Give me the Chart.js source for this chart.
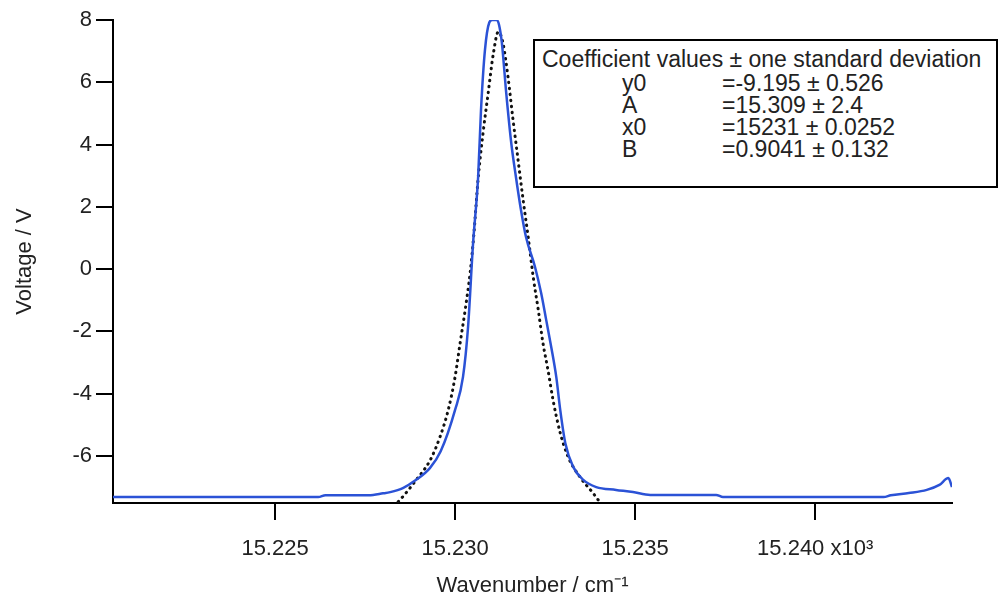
<!DOCTYPE html>
<html>
<head>
<meta charset="utf-8">
<script src="https://cdn.jsdelivr.net/npm/chart.js@4/dist/chart.umd.min.js"></script>
<style>
  html, body { margin: 0; padding: 0; background: #fff; }
  #wrap { position: relative; width: 998px; height: 599px; }
  #coef {
    position: absolute; left: 533px; top: 39px; width: 461px; height: 145px;
    border: 2px solid #000; background: #fff;
    font-family: 'Liberation Sans', Arial, sans-serif; font-size: 23px; color: #222;
    line-height: 22px;
  }
  #coef .title { position: absolute; left: 7px; top: 7px; white-space: nowrap; }
  #coef .row { position: absolute; left: 0; white-space: nowrap; }
  #coef .name { position: absolute; left: 87px; }
  #coef .val { position: absolute; left: 187px; }
</style>
</head>
<body>
<div id="wrap">
  <canvas id="chart" width="998" height="599"></canvas>
  <div id="coef"></div>
</div>
<script>
// measured trace (blue)
const traceWn = [15220.5, 15226.2, 15226.4, 15227.6, 15228.0, 15228.2, 15228.55, 15228.9, 15229.3, 15229.6,
  15230.0, 15230.22, 15230.36, 15230.5, 15230.64, 15230.72, 15230.83, 15230.95, 15231.03, 15231.15,
  15231.22, 15231.3, 15231.42, 15231.56, 15231.69, 15231.83, 15231.97, 15232.22, 15232.39, 15232.53,
  15232.67, 15232.81, 15232.92, 15233.06, 15233.28, 15233.56, 15233.92, 15234.47, 15234.94, 15235.42,
  15237.25, 15237.44, 15241.9, 15242.1, 15242.6, 15243.1, 15243.45, 15243.7, 15243.8];
const traceV = [-7.32, -7.32, -7.26, -7.26, -7.2, -7.16, -7.03, -6.78, -6.39, -5.85,
  -4.52, -3.46, -1.86, 0.84, 2.96, 5.11, 7.04, 7.92, 8.0, 8.0,
  7.85, 7.26, 5.66, 4.05, 2.96, 1.9, 1.03, 0.07, -0.77, -1.63,
  -2.5, -3.46, -4.52, -5.58, -6.35, -6.77, -7.0, -7.09, -7.16, -7.25,
  -7.25, -7.32, -7.32, -7.26, -7.19, -7.09, -6.93, -6.71, -7.0];

// gaussian fit (dotted)
const fitWn = [15228.3, 15228.47, 15228.92, 15229.31, 15229.58, 15229.81, 15230.0, 15230.14, 15230.28, 15230.42,
  15230.52, 15230.64, 15230.78, 15230.92, 15231.06, 15231.2, 15231.33, 15231.47, 15231.61, 15231.75,
  15231.89, 15232.03, 15232.17, 15232.31, 15232.44, 15232.58, 15232.72, 15232.92, 15233.14, 15233.47,
  15233.83, 15234.0];
const fitV = [-7.6, -7.41, -6.77, -6.13, -5.39, -4.52, -3.46, -2.37, -1.31, -0.1,
  1.1, 2.9, 4.4, 5.66, 6.9, 7.62, 7.26, 6.17, 4.79, 3.5,
  2.22, 1.03, -0.25, -1.31, -2.37, -3.24, -4.2, -5.26, -6.03, -6.68,
  -7.19, -7.45];

const xTicks = [15225, 15230, 15235, 15240];
const xTickLabels = ['15.225', '15.230', '15.235', '15.240 x10\u00b3'];
const yTicks = [-6, -4, -2, 0, 2, 4, 6, 8];

const coefNames = ['y0', 'A', 'x0', 'B'];
const coefValues = ['=-9.195 \u00b1 0.526', '=15.309 \u00b1 2.4', '=15231 \u00b1 0.0252', '=0.9041 \u00b1 0.132'];

// coefficient box
const box = document.getElementById('coef');
box.innerHTML = '<div class="title">Coefficient values \u00b1 one standard deviation</div>' +
  coefNames.map((n, i) =>
    '<div class="row" style="top:' + (31 + i * 22) + 'px"><span class="name">' + n +
    '</span><span class="val">' + coefValues[i] + '</span></div>').join('');

const fam = "'Liberation Sans', Arial, sans-serif";

new Chart(document.getElementById('chart'), {
  type: 'line',
  data: {
    datasets: [
      {
        data: traceWn.map((x, i) => ({ x: x, y: traceV[i] })),
        borderColor: '#2b52d6',
        borderWidth: 2.5,
        pointRadius: 0,
        cubicInterpolationMode: 'monotone'
      },
      {
        data: fitWn.map((x, i) => ({ x: x, y: fitV[i] })),
        borderColor: '#111',
        borderWidth: 3,
        borderDash: [0.5, 5.5],
        borderCapStyle: 'round',
        pointRadius: 0,
        cubicInterpolationMode: 'monotone'
      }
    ]
  },
  options: {
    responsive: false,
    animation: false,
    layout: { padding: { top: 20, right: 46, left: 0, bottom: 0 } },
    plugins: { legend: { display: false }, tooltip: { enabled: false } },
    scales: {
      x: {
        type: 'linear',
        min: 15220.5,
        max: 15243.8,
        afterBuildTicks: (s) => { s.ticks = xTicks.map(v => ({ value: v })); },
        afterFit: (s) => { s.height = 96; },
        border: { display: true, color: '#000', width: 2 },
        grid: { drawOnChartArea: false, drawTicks: true, tickLength: 17, tickColor: '#000', lineWidth: 2 },
        ticks: {
          font: { family: fam, size: 22 }, color: '#222', padding: 16, maxRotation: 0,
          callback: (v) => xTickLabels[xTicks.indexOf(v)]
        },
        title: { display: true, text: 'Wavenumber / cm\u207b\u00b9', font: { family: fam, size: 22 }, color: '#222', padding: { top: 0, bottom: 0 } }
      },
      y: {
        min: -7.51,
        max: 8,
        afterBuildTicks: (s) => { s.ticks = yTicks.map(v => ({ value: v })); },
        afterFit: (s) => { s.width = 113; },
        border: { display: true, color: '#000', width: 2 },
        grid: { drawOnChartArea: false, drawTicks: true, tickLength: 17, tickColor: '#000', lineWidth: 2 },
        ticks: { font: { family: fam, size: 22 }, color: '#222', padding: 4 },
        title: { display: true, text: 'Voltage / V', font: { family: fam, size: 22 }, color: '#222', padding: { top: 12, bottom: 0 } }
      }
    }
  }
});
</script>
</body>
</html>
